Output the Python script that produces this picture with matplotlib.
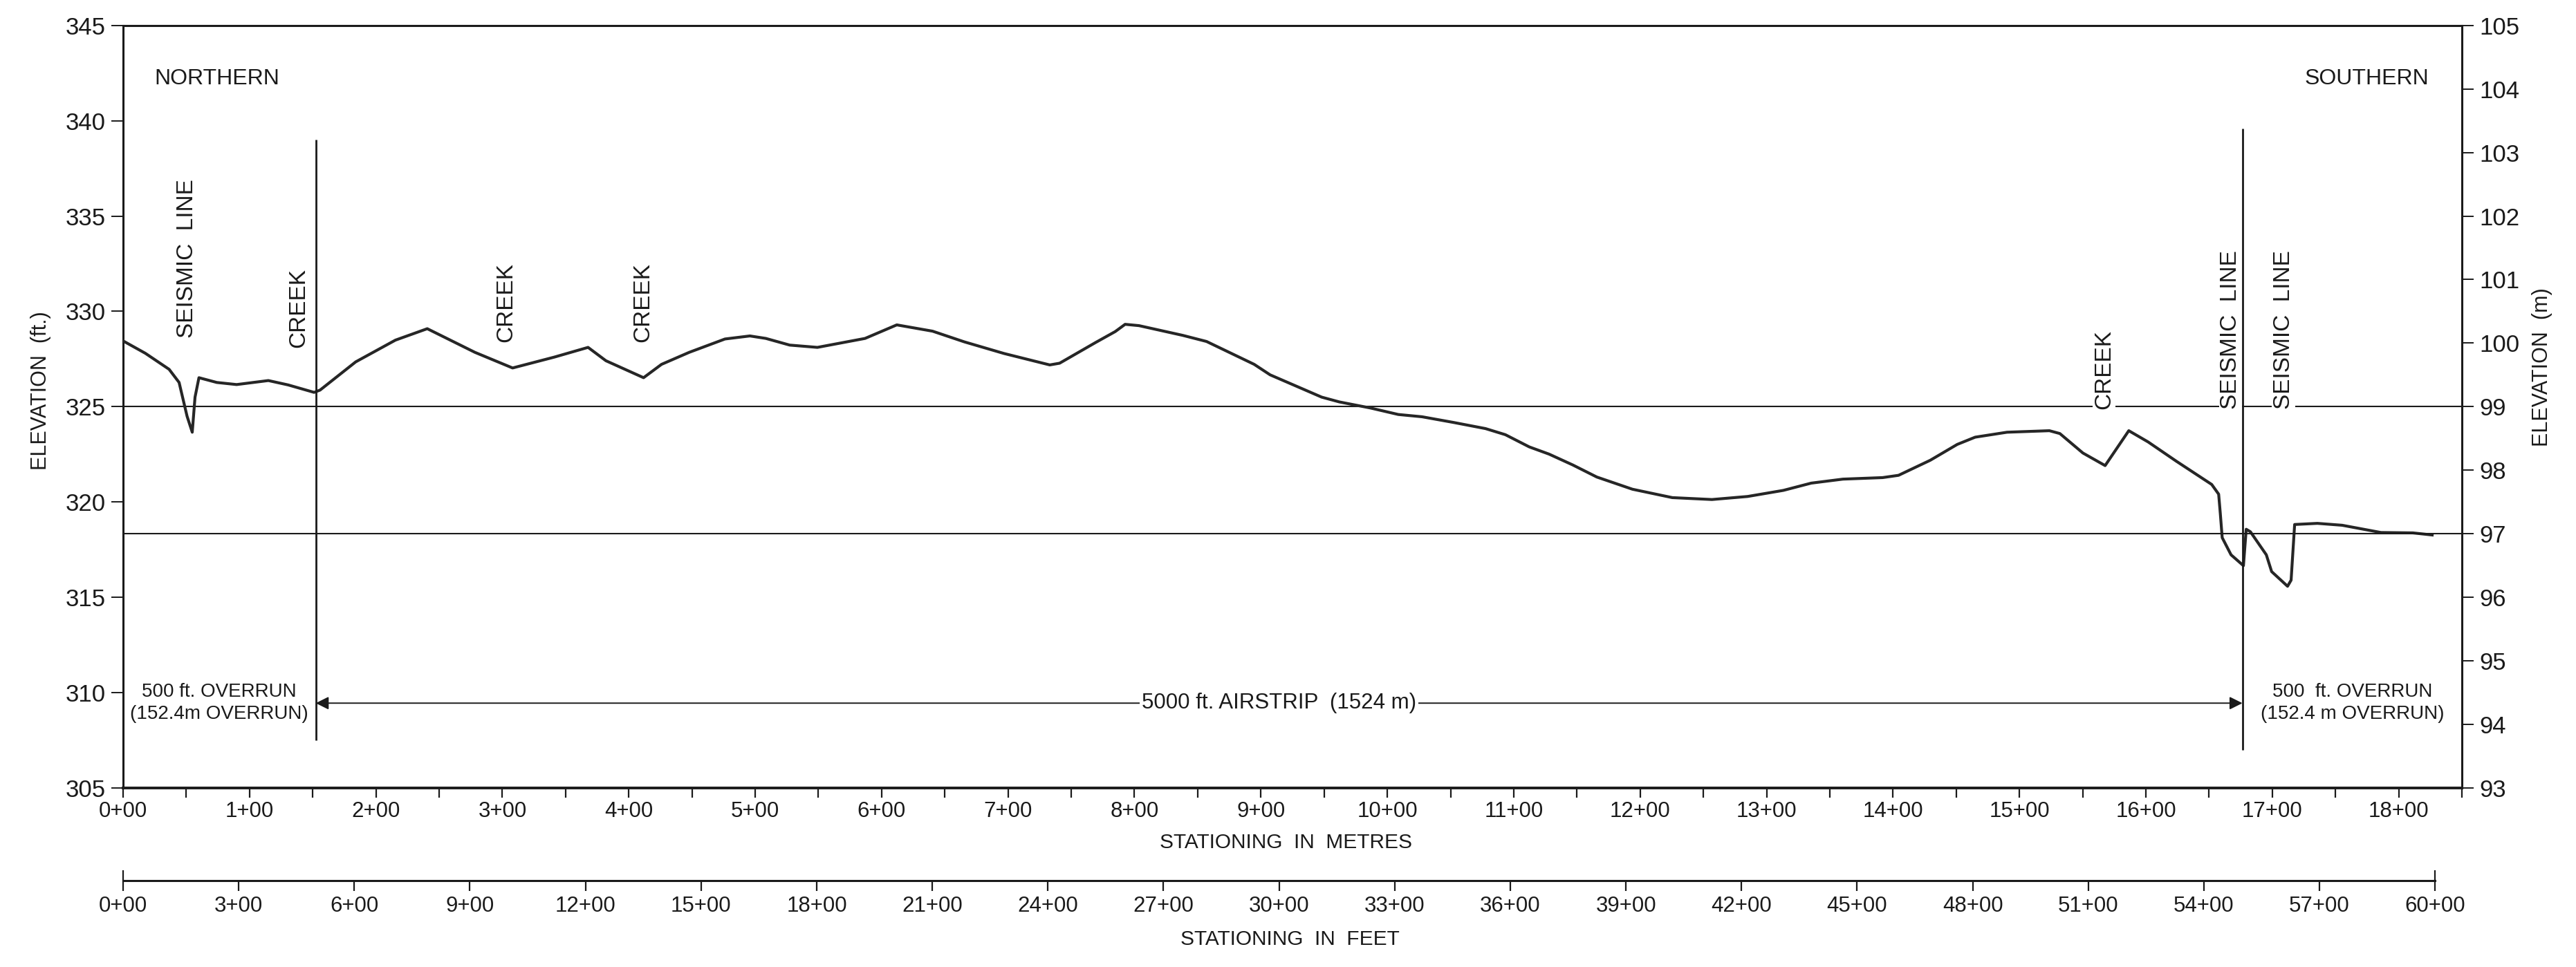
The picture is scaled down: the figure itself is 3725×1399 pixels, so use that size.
import matplotlib.pyplot as plt

plt.rcParams['font.family'] = ['Liberation Sans', 'DejaVu Sans']

# ground profile: station (m) and elevation (ft)
station_m = [0.0, 17.6, 36.4, 44.3, 50.6, 54.7, 56.9, 60.0, 74.1, 89.8,
             114.9, 130.6, 151.1, 155.8, 184.0, 215.4, 240.6, 278.3, 308.1, 341.1,
             367.8, 381.9, 411.7, 425.9, 447.8, 476.1, 495.8, 508.4, 527.3, 549.2,
             586.9, 612.0, 640.3, 665.4, 696.8, 733.0, 740.8, 769.1, 784.8, 792.6,
             803.6, 838.2, 857.0, 894.7, 907.3, 948.1, 962.0, 986.7, 1008.7, 1027.5,
             1052.6, 1077.7, 1093.4, 1112.3, 1128.0, 1146.8, 1165.7, 1193.9, 1225.4, 1256.8,
             1285.0, 1313.3, 1335.3, 1360.4, 1391.8, 1404.4, 1429.5, 1450.8, 1465.0, 1490.2,
             1523.7, 1532.0, 1550.2, 1567.8, 1586.5, 1601.8, 1624.1, 1652.1, 1657.6, 1658.9,
             1660.4, 1667.4, 1677.2, 1679.4, 1682.7, 1695.3, 1699.5, 1712.1, 1714.9, 1717.7,
             1735.7, 1755.3, 1786.0, 1811.2, 1826.5]
elev_ft = [328.45, 327.8, 326.96, 326.27, 324.5, 323.66, 325.5, 326.52, 326.27, 326.16,
           326.37, 326.14, 325.75, 325.87, 327.35, 328.49, 329.09, 327.85, 327.03, 327.6,
           328.11, 327.41, 326.52, 327.22, 327.85, 328.55, 328.71, 328.58, 328.23, 328.11,
           328.58, 329.29, 328.96, 328.4, 327.79, 327.19, 327.28, 328.36, 328.94, 329.32,
           329.25, 328.74, 328.42, 327.22, 326.67, 325.5, 325.25, 324.93, 324.59, 324.47,
           324.17, 323.85, 323.53, 322.89, 322.51, 321.94, 321.31, 320.67, 320.23, 320.13,
           320.29, 320.61, 320.99, 321.2, 321.28, 321.4, 322.19, 323.02, 323.4, 323.66,
           323.74, 323.59, 322.57, 321.91, 323.74, 323.15, 322.14, 320.92, 320.41, 319.4,
           318.13, 317.23, 316.66, 318.57, 318.44, 317.23, 316.35, 315.58, 315.9, 318.82,
           318.88, 318.78, 318.4, 318.38, 318.27]

metre_ticks = list(range(0, 1801, 100))
metre_labels = ['0+00', '1+00', '2+00', '3+00', '4+00', '5+00', '6+00', '7+00', '8+00', '9+00',
                '10+00', '11+00', '12+00', '13+00', '14+00', '15+00', '16+00', '17+00', '18+00']
metre_minor = list(range(50, 1851, 100))
feet_ticks = list(range(0, 6001, 300))
feet_labels = ['0+00', '3+00', '6+00', '9+00', '12+00', '15+00', '18+00', '21+00', '24+00', '27+00',
               '30+00', '33+00', '36+00', '39+00', '42+00', '45+00', '48+00', '51+00', '54+00',
               '57+00', '60+00']
ft_ticks = [305, 310, 315, 320, 325, 330, 335, 340, 345]
m_ticks = [93, 94, 95, 96, 97, 98, 99, 100, 101, 102, 103, 104, 105]

strip_start = 152.4
strip_end = 1676.4
ref_ft = 325
ref_m = 97

upper_labels = [(50.6, 328.6, 'SEISMIC  LINE'), (139, 328.1, 'CREEK'),
                (303, 328.4, 'CREEK'), (411, 328.4, 'CREEK')]
line_labels = [(1567, 324.85, 'CREEK'), (1667, 324.85, 'SEISMIC  LINE'),
               (1709, 324.85, 'SEISMIC  LINE')]

ink = '#1a1a1a'

fig = plt.figure(figsize=(37.25, 13.99), dpi=100)
L, W = 178 / 3725, (3560 - 178) / 3725
B, H = 1 - 1140 / 1399, (1140 - 36.7) / 1399
ax = fig.add_axes([L, B, W, H])

ax.plot(station_m, elev_ft, color='#262626', linewidth=3.0, zorder=3)
ax.axhline(ref_ft, color=ink, linewidth=1.5, zorder=1)

ax.vlines([strip_start], 307.5, 339.0, color=ink, linewidth=2.0, zorder=6)
ax.vlines([strip_end], 307.0, 339.6, color=ink, linewidth=2.0, zorder=6)

ax.annotate('', xy=(strip_start, 309.45), xytext=(strip_end, 309.45),
            arrowprops=dict(arrowstyle='<|-|>', color=ink, lw=1.4,
                            mutation_scale=28, shrinkA=0, shrinkB=0))
ax.text((strip_start + strip_end) / 2, 309.45, '5000 ft. AIRSTRIP  (1524 m)',
        ha='center', va='center', fontsize=22.5, color=ink,
        bbox=dict(facecolor='white', edgecolor='none', pad=2))
ax.text(strip_start / 2, 309.45, '500 ft. OVERRUN\n(152.4m OVERRUN)',
        ha='center', va='center', fontsize=20, color=ink, linespacing=1.3)
ax.text((strip_end + 1850) / 2, 309.45, '500  ft. OVERRUN\n(152.4 m OVERRUN)',
        ha='center', va='center', fontsize=20, color=ink, linespacing=1.3)

ax.text(24.6, 342.2, 'NORTHERN', ha='left', va='center', fontsize=23, color=ink)
ax.text(1824, 342.2, 'SOUTHERN', ha='right', va='center', fontsize=23, color=ink)

for x, y, s in upper_labels:
    ax.text(x, y, s, rotation=90, ha='center', va='bottom', fontsize=24, color=ink)
for x, y, s in line_labels:
    ax.text(x, y, s, rotation=90, ha='center', va='bottom', fontsize=24, color=ink,
            zorder=4, bbox=dict(facecolor='white', edgecolor='none', pad=1))

ax.set_xlim(0, 1850)
ax.set_ylim(305, 345)
ax.set_yticks(ft_ticks)
ax.set_xticks(metre_ticks, labels=metre_labels)
ax.set_xticks(metre_minor, minor=True)
ax.tick_params(axis='y', direction='out', length=12, width=1.4, pad=6, labelsize=25, colors=ink)
ax.tick_params(axis='x', which='both', direction='out', length=10, width=1.6, pad=4,
               labelsize=22.5, colors=ink)
for s in ax.spines.values():
    s.set_linewidth(2.2)
    s.set_color(ink)
ax.spines['bottom'].set_linewidth(2.8)

ax2 = ax.twinx()
ax2.set_ylim(93, 105)
ax2.set_yticks(m_ticks)
ax2.axhline(ref_m, color=ink, linewidth=1.5, zorder=1)
ax2.tick_params(axis='y', direction='out', length=12, width=1.4, pad=6, labelsize=25, colors=ink)
for s in ax2.spines.values():
    s.set_visible(False)

# feet scale below
fax = fig.add_axes([L, 1 - 1274 / 1399, W, 0.0001])
fax.set_xlim(0, 1850 / 0.3048)
fax.set_ylim(0, 1)
for s in ['top', 'left', 'right']:
    fax.spines[s].set_visible(False)
fax.spines['bottom'].set_bounds(0, 6000)
fax.spines['bottom'].set_linewidth(2.2)
fax.spines['bottom'].set_color(ink)
fax.patch.set_visible(False)
fax.set_yticks([])
fax.set_xticks([feet_ticks[0], feet_ticks[-1]], labels=[feet_labels[0], feet_labels[-1]])
fax.set_xticks(feet_ticks[1:-1], labels=feet_labels[1:-1], minor=True)
fax.tick_params(axis='x', which='major', direction='inout', length=22, width=1.6, pad=5,
                labelsize=22.5, colors=ink)
fax.tick_params(axis='x', which='minor', direction='out', length=11, width=1.6, pad=5,
                labelsize=22.5, colors=ink)

fig.text(0.0158, 0.596, 'ELEVATION  (ft.)', rotation=90, ha='center', va='center',
         fontsize=22, color=ink)
fig.text(0.9868, 0.62, 'ELEVATION  (m)', rotation=90, ha='center', va='center',
         fontsize=22, color=ink)
fig.text(0.4993, 0.1287, 'STATIONING  IN  METRES', ha='center', va='center', fontsize=21.5, color=ink)
fig.text(0.5007, 0.0286, 'STATIONING  IN  FEET', ha='center', va='center', fontsize=21.5, color=ink)

fig.savefig('out.png', dpi=100, facecolor='white')
